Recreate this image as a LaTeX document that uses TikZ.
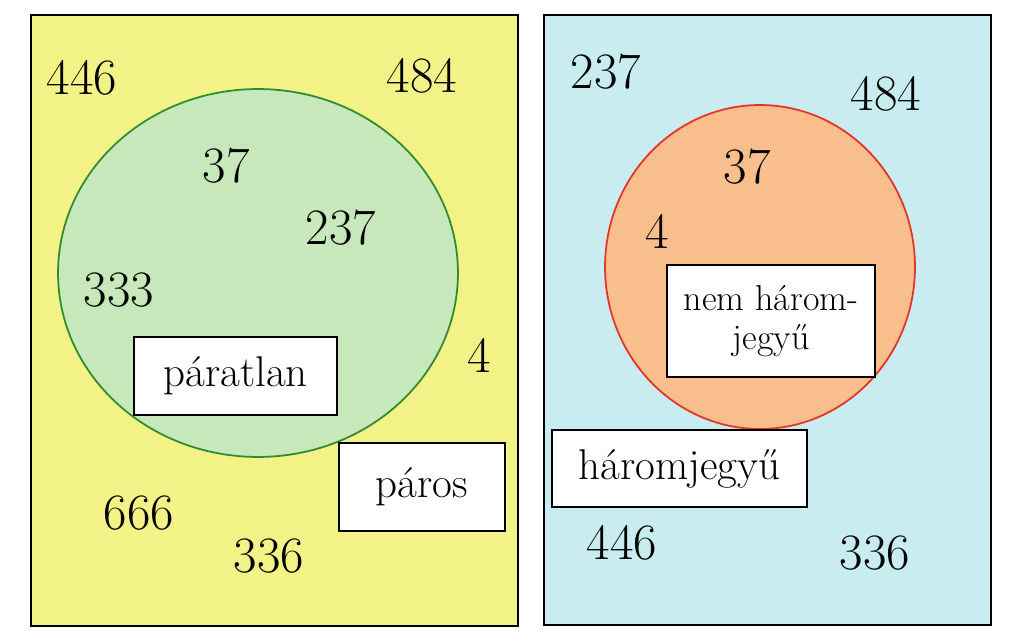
\documentclass[tikz,border=0pt]{standalone}
\usepackage{fontspec}
\definecolor{setyellow}{RGB}{242,242,135}
\definecolor{setgreen}{RGB}{198,232,186}
\definecolor{linegreen}{RGB}{46,139,46}
\definecolor{setcyan}{RGB}{200,236,240}
\definecolor{setorange}{RGB}{248,190,140}
\definecolor{linered}{RGB}{232,50,40}
\begin{document}
\begin{tikzpicture}
		[x=0.02cm, y=-0.02cm,
		num/.style={font=\fontsize{29}{31}\selectfont, inner sep=0pt},
		tag/.style={draw, fill=white, line width=1pt, inner sep=0pt, font=\fontsize{24.5}{26}\selectfont}]
		\useasboundingbox (0,0) rectangle (1023,631);
		% left: paros / paratlan
		\draw[fill=setyellow, line width=1.2pt] (31,15) rectangle (518,626);
		\coordinate (P) at (258,273);
		\draw[fill=setgreen, draw=linegreen, line width=1pt] (P) ellipse [x radius=4cm, y radius=3.68cm];
		\node[tag, minimum width=4.06cm, minimum height=1.56cm] (pt) at (235.5,376) {páratlan};
		\node[tag, minimum width=3.32cm, minimum height=1.76cm] (ps) at (422,487) {páros};
		\node[num] (a446) at (82,78) {446};
		\node[num] (a484) at (422,76) {484};
		\node[num] (a37) at (226,166) {37};
		\node[num] (a237) at (341,228) {237};
		\node[num] (a333) at (119,290) {333};
		\node[num] (a4) at (479,355) {4};
		\node[num] (a666) at (139,513) {666};
		\node[num] (a336) at (269,556) {336};
		% right: haromjegyu
		\draw[fill=setcyan, line width=1.2pt] (544,15) rectangle (991,625);
		\coordinate (H) at (760,267);
		\draw[fill=setorange, draw=linered, line width=1pt] (H) ellipse [x radius=3.1cm, y radius=3.24cm];
		\node[tag, minimum width=4.16cm, minimum height=2.24cm, align=center, font=\fontsize{20.5}{22}\selectfont] (nh) at (771,321) {nem három-\\jegyű};
		\node[tag, minimum width=5.1cm, minimum height=1.54cm] (hj) at (679.5,468.5) {háromjegyű};
		\node[num] (b237) at (606,72) {237};
		\node[num] (b484) at (886,94) {484};
		\node[num] (b37) at (747,167) {37};
		\node[num] (b4) at (657,231) {4};
		\node[num] (b446) at (622,543) {446};
		\node[num] (b336) at (875,553) {336};
	\end{tikzpicture}
\end{document}
